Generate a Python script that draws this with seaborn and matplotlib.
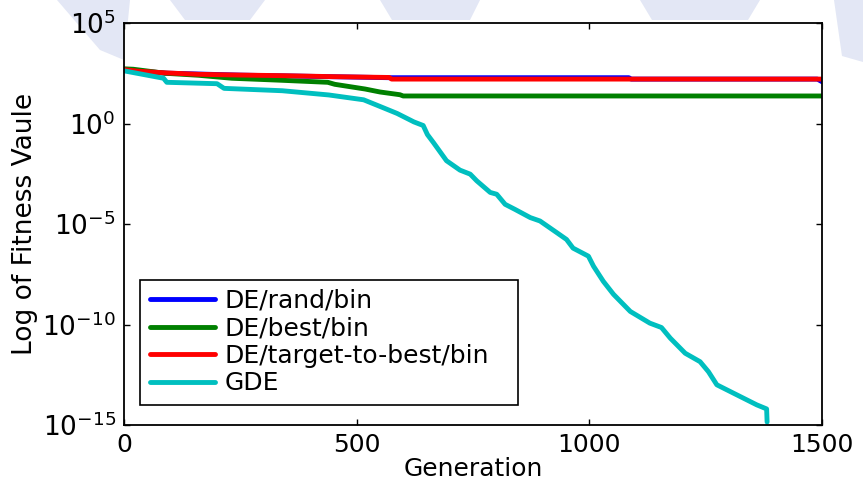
import matplotlib
matplotlib.use("Agg")
import matplotlib.pyplot as plt
from matplotlib.patches import Polygon
import pandas as pd
import seaborn as sns

# ---- data: best fitness per generation for each optimiser ----
methods = ["DE/rand/bin", "DE/best/bin", "DE/target-to-best/bin", "GDE"]
line_colors = ["#0000ff", "#008000", "#ff0000", "#00bfbf"]

rand_gen = [0, 90, 250, 450, 570, 1085, 1090, 1490, 1500]
rand_fit = [470, 320, 255, 212, 190, 190, 162, 162, 120]

best_gen = [0, 20, 88, 160, 232, 340, 438, 453, 518, 550, 593, 600, 1500]
best_fit = [525, 500, 316, 251, 178, 141, 112, 89, 52, 37, 27, 23.4, 23.4]

ttb_gen = [0, 30, 90, 160, 250, 340, 450, 570, 575, 1500]
ttb_fit = [480, 400, 330, 280, 257, 240, 214, 195, 162, 162]

gde_gen = [0, 85, 92, 200, 215, 340, 440, 515, 550, 587, 623, 643, 652,
           665, 693, 722, 744, 758, 787, 801, 819, 840, 873, 894, 930,
           951, 965, 998, 1009, 1030, 1052, 1088, 1130, 1155, 1174, 1206,
           1238, 1256, 1274, 1317, 1360, 1381, 1382]
gde_fit = [417, 178, 112, 95.5, 56, 42.7, 26.3, 15.1, 7.08, 3.16, 1.2,
           0.794, 0.282, 0.112, 1.41e-2, 4.79e-3, 3.02e-3, 1.41e-3,
           3.72e-4, 3.02e-4, 9.55e-5, 5.37e-5, 2.09e-5, 1.41e-5, 3.72e-6,
           1.70e-6, 6.31e-7, 2.51e-7, 7.94e-8, 1.41e-8, 3.16e-9, 4.47e-10,
           1.17e-10, 7.08e-11, 2.09e-11, 3.72e-12, 1.41e-12, 4.47e-13,
           1e-13, 3.16e-14, 1e-14, 6.31e-15, 1.41e-15]

x_ticks = [0, 500, 1000, 1500]
y_ticks = [1e-15, 1e-10, 1e-5, 1e0, 1e5]

series = [(rand_gen, rand_fit), (best_gen, best_fit),
          (ttb_gen, ttb_fit), (gde_gen, gde_fit)]
df = pd.concat(
    [pd.DataFrame({"Generation": g, "Fitness": f, "Method": m})
     for m, (g, f) in zip(methods, series)],
    ignore_index=True,
)

# ---- styling ----
sns.set_style("ticks")
plt.rcParams["font.family"] = ["DejaVu Sans"]
plt.rcParams["mathtext.fontset"] = "dejavusans"
for key in ("text.color", "axes.labelcolor", "xtick.color", "ytick.color"):
    plt.rcParams[key] = "black"

W, H = 863, 487
fig = plt.figure(figsize=(W / 100, H / 100), dpi=100)

# faint page watermark behind everything (pixel coordinates, y downwards)
wm_shapes = [
    [(57, 0), (130, 0), (124, 60), (100, 50)],
    [(170, 0), (265, 0), (250, 20), (185, 20)],
    [(380, 0), (480, 0), (470, 20), (392, 20)],
    [(640, 0), (760, 0), (748, 20), (652, 20)],
    [(834, 0), (863, 0), (863, 62), (842, 56)],
]
wm_ax = fig.add_axes([0, 0, 1, 1], zorder=-10)
wm_ax.set_axis_off()
wm_ax.set_xlim(0, W)
wm_ax.set_ylim(H, 0)
for pts in wm_shapes:
    wm_ax.add_patch(Polygon(pts, closed=True, facecolor="#e3e7f5",
                            edgecolor="none"))

ax = fig.add_axes([124 / W, 1 - 425 / H, 698 / W, 402 / H])
ax.set_yscale("log")

sns.lineplot(
    data=df, x="Generation", y="Fitness", hue="Method",
    hue_order=methods, palette=dict(zip(methods, line_colors)),
    estimator=None, sort=False, linewidth=3.5, legend=False, ax=ax,
)

ax.set_xlim(0, 1500)
ax.set_ylim(1e-15, 1e5)
ax.set_xticks(x_ticks)
ax.set_yticks(y_ticks)
ax.minorticks_off()
ax.tick_params(axis="both", which="both", direction="in", length=4,
               width=1, top=True, right=True, color="black")
ax.tick_params(axis="x", labelsize=18, pad=6)
ax.tick_params(axis="y", labelsize=19, pad=6)

for sp in ax.spines.values():
    sp.set_visible(True)
    sp.set_color("black")
    sp.set_linewidth(1.3)

ax.set_xlabel("Generation", fontsize=18)
ax.set_ylabel("Log of Fitness Vaule", fontsize=19)
ax.xaxis.set_label_coords(0.5, -0.08)
ax.yaxis.set_label_coords(-0.123, 0.5)

leg = ax.legend(
    handles=ax.lines[:4], labels=methods, loc="lower left",
    bbox_to_anchor=(16 / 698, 20 / 402, 378 / 698, 122 / 402),
    mode="expand", borderaxespad=0, fontsize=18, frameon=True,
    fancybox=False, shadow=False, handlelength=2.6, handletextpad=0.4,
    labelspacing=0.14, borderpad=0.38,
)
leg.get_frame().set_edgecolor("black")
leg.get_frame().set_linewidth(1.2)
leg.get_frame().set_alpha(1)
for h in leg.get_lines():
    h.set_linewidth(3.5)

fig.savefig("out.png", dpi=100)
